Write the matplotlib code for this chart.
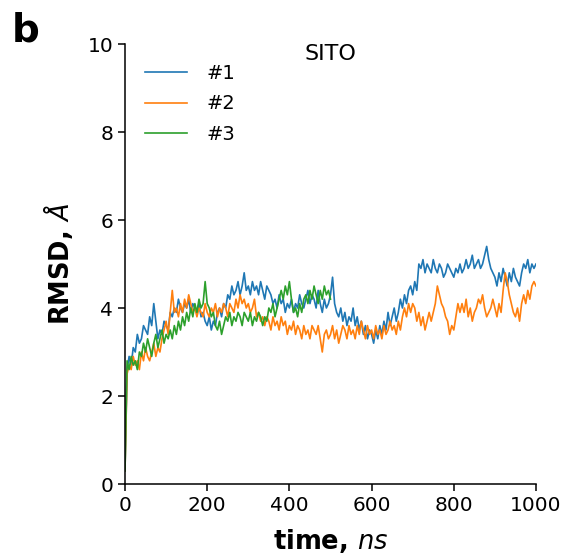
import numpy as np
import matplotlib
matplotlib.use("Agg")
import matplotlib.pyplot as plt

plt.rcParams["mathtext.fontset"] = "dejavusans"

step_ns = 5
rmsd_1 = [
    0.3, 2.6, 2.9, 2.7, 3.1, 3.0, 3.4, 3.2, 3.3, 3.6, 3.5, 3.4, 3.8, 3.6, 4.1, 3.7, 3.3, 3.5, 3.4, 3.7,
    3.6, 3.5, 3.9, 3.8, 4.0, 3.9, 4.2, 4.0, 3.9, 4.1, 4.0, 4.2, 3.9, 4.1, 4.0, 3.9, 4.1, 3.8, 3.9, 3.7,
    3.6, 3.8, 3.5, 3.7, 3.6, 3.9, 4.0, 3.8, 4.1, 4.0, 4.3, 4.2, 4.5, 4.3, 4.4, 4.6, 4.3, 4.5, 4.8, 4.4,
    4.5, 4.3, 4.6, 4.4, 4.5, 4.3, 4.6, 4.4, 4.2, 4.5, 4.4, 4.3, 4.1, 4.2, 4.0, 4.3, 4.1, 4.2, 3.9, 4.1,
    4.0, 4.2, 3.9, 4.1, 4.0, 4.3, 4.1, 4.0, 4.2, 4.4, 4.1, 4.3, 4.2, 4.0, 4.4, 4.1, 3.9, 4.2, 4.0, 4.1,
    4.3, 4.7, 4.1, 3.9, 3.8, 4.0, 3.7, 3.9, 3.6, 3.8, 3.7, 4.0, 3.6, 3.8, 3.5, 3.7, 3.4, 3.6, 3.3, 3.5,
    3.4, 3.2, 3.5, 3.3, 3.6, 3.4, 3.7, 3.5, 3.9, 3.6, 3.8, 4.0, 3.7, 3.9, 4.2, 4.0, 4.3, 4.1, 4.4, 4.5,
    4.3, 4.6, 4.4, 5.0, 4.9, 5.1, 4.8, 5.0, 4.9, 4.8, 5.1, 4.9, 4.8, 5.0, 4.9, 4.7, 4.8, 5.0, 4.9, 4.8,
    4.7, 4.9, 4.8, 5.0, 4.8, 4.9, 5.1, 4.9, 5.0, 5.2, 4.9, 5.0, 5.1, 4.9, 5.0, 5.2, 5.4, 5.1, 4.9, 4.8,
    4.7, 4.5, 4.8, 4.6, 4.9, 4.7, 4.5, 4.8, 4.6, 4.9, 4.7, 4.6, 4.5, 4.8, 5.0, 4.9, 5.1, 4.8, 5.0, 4.9,
    5.0,
]
rmsd_2 = [
    0.3, 2.5, 2.7, 2.6, 2.9, 2.7, 2.8, 2.6, 3.0, 2.8, 3.1, 2.9, 2.8, 3.0, 3.2, 2.9, 3.1, 3.0, 3.3, 3.5,
    3.7, 3.4, 3.9, 4.4, 3.9, 4.0, 3.8, 4.1, 3.9, 4.2, 4.0, 4.3, 4.1, 3.9, 4.0, 3.8, 4.0, 3.9, 3.8, 4.1,
    3.9, 3.8, 4.0, 3.9, 4.1, 3.8, 4.0, 3.9, 4.1, 4.0, 3.8, 4.1, 4.0, 3.9, 4.2, 4.0, 4.3, 4.1, 4.2, 4.0,
    4.1, 3.9, 4.0, 4.2, 3.8, 3.9, 3.7, 3.8, 3.6, 3.8, 3.7, 3.5, 3.8, 3.6, 3.7, 3.5, 3.8, 3.6, 3.7, 3.4,
    3.6, 3.5, 3.7, 3.4, 3.6, 3.5, 3.3, 3.6, 3.4, 3.5, 3.3, 3.6, 3.5, 3.4, 3.6, 3.3, 3.0, 3.4, 3.5, 3.3,
    3.4, 3.6, 3.3, 3.5, 3.2, 3.4, 3.6, 3.5, 3.3, 3.6, 3.4, 3.5, 3.3, 3.6, 3.4, 3.7, 3.5, 3.3, 3.6, 3.4,
    3.5, 3.3, 3.6, 3.4, 3.5, 3.3, 3.6, 3.4, 3.5, 3.7, 3.5, 3.6, 3.4, 3.7, 3.5, 3.8, 4.0, 3.8, 4.1, 3.9,
    4.1, 4.0, 3.7, 3.9, 3.6, 3.8, 3.5, 3.7, 3.9, 3.7, 3.9, 4.1, 4.5, 4.3, 4.1, 4.0, 3.8, 3.7, 3.4, 3.6,
    3.5, 3.8, 4.1, 3.9, 4.1, 3.9, 4.2, 3.8, 4.0, 3.7, 3.9, 4.0, 4.2, 4.1, 4.3, 4.0, 3.8, 3.9, 4.0, 4.2,
    4.0, 3.8, 4.1, 3.9, 4.4, 4.8, 4.6, 4.3, 4.1, 3.9, 3.8, 4.0, 3.7, 4.1, 4.3, 4.1, 4.4, 4.2, 4.5, 4.6,
    4.5,
]
rmsd_3 = [
    0.3, 2.8, 2.6, 2.9, 2.7, 2.8, 2.6, 3.0, 2.9, 3.2, 3.0, 3.3, 3.1, 2.9, 3.2, 3.4, 3.1, 3.3, 3.5, 3.2,
    3.4, 3.3, 3.5, 3.3, 3.6, 3.4, 3.7, 3.5, 3.8, 3.6, 3.9, 3.7, 4.0, 3.8, 4.1, 3.9, 4.2, 4.0, 4.1, 4.6,
    4.1, 4.0, 3.8, 3.9, 3.6, 3.5, 3.7, 3.4, 3.6, 3.8, 3.7, 3.9, 3.6, 3.8, 3.7, 3.9, 3.8, 3.6, 3.9, 3.8,
    3.7, 3.9, 3.6, 3.8, 3.7, 3.9, 3.8, 3.6, 3.8, 3.7, 4.0, 3.9, 4.1, 3.8, 4.0, 4.2, 4.4, 4.2, 4.5, 4.3,
    4.6, 4.2, 3.9, 4.0, 3.8, 4.1, 3.9, 4.2, 4.3, 4.1, 4.4, 4.2, 4.5, 4.3, 4.1, 4.4, 4.2, 4.5, 4.3, 4.4,
    4.2,
]
labels = ["#1", "#2", "#3"]
colors = ["#1f77b4", "#ff7f0e", "#2ca02c"]
x_ticks = [0, 200, 400, 600, 800, 1000]
y_ticks = [0, 2, 4, 6, 8, 10]

fig = plt.figure(figsize=(5.72, 5.60), dpi=100)
ax = fig.add_axes([125/572, 76/560, 411/572, 440/560])

for series, lab, col in zip([rmsd_1, rmsd_2, rmsd_3], labels, colors):
    t = np.arange(len(series)) * step_ns
    ax.plot(t, series, color=col, lw=1.2, label=lab)

ax.set_xlim(0, 1000)
ax.set_ylim(0, 10)
ax.set_xticks(x_ticks)
ax.set_yticks(y_ticks)
ax.tick_params(labelsize=14.5, length=5, width=1.1)
for s in ["left", "bottom"]:
    ax.spines[s].set_linewidth(1.1)
ax.spines["top"].set_visible(False)
ax.spines["right"].set_visible(False)

ax.set_xlabel(r"time, $\mathit{ns}$", fontsize=18.5, fontweight="bold", labelpad=9)
ax.set_ylabel(r"RMSD, $\mathit{\AA}$", fontsize=18.5, fontweight="bold", labelpad=9)

ax.text(0.5, 9.78, "SITO", fontsize=16, ha="center", va="center",
        transform=ax.get_yaxis_transform())
ax.legend(loc="upper left", bbox_to_anchor=(0.005, 0.995), frameon=False,
          fontsize=14, handlelength=2.2, handletextpad=1.0, labelspacing=0.6)

fig.text(26/572, 1 - 30/560, "b", fontsize=28, fontweight="bold", va="center", ha="center")

fig.savefig("out.png", dpi=100)
